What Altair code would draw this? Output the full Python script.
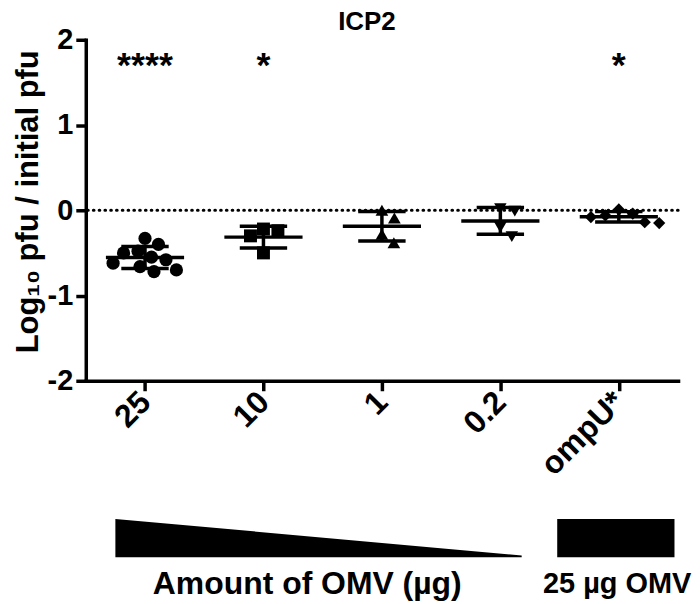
import altair as alt
import pandas as pd

# ---------------- data ----------------
categories = ["25", "10", "1", "0.2", "ompU*"]
values_25 = [-0.33, -0.40, -0.48, -0.50, -0.55, -0.58, -0.62, -0.66, -0.70, -0.72]
values_10 = [-0.22, -0.24, -0.30, -0.50]
values_1 = [0.0, -0.09, -0.28, -0.38]
values_02 = [0.02, -0.01, -0.20, -0.31]
values_ompu = [-0.04, -0.08, -0.15, -0.14, -0.06, 0.01]
groups = [values_25, values_10, values_1, values_02, values_ompu]
stars = ["****", "*", "", "", "*"]
star_level = [1.78, 1.78, 1.78, 1.78, 1.78]
y_ticks = [-2, -1, 0, 1, 2]
caption_left = "Amount of OMV (µg)"
caption_right = "25 µg OMV"

# ---------------- style ----------------
FONT = "Liberation Sans"
shapes = ["circle", "square", "triangle-up", "triangle-down", "diamond"]
sizes = [175, 150, 240, 240, 210]
W, H = 594, 342
XPX = W / len(categories)
YPX = H / 4.0
D = 14.5


def swarm(vals, d=D):
    """simple beeswarm: horizontal pixel offsets so markers do not overlap"""
    placed = []
    offs = [0.0] * len(vals)
    order = sorted(range(len(vals)), key=lambda k: -vals[k])
    for i in order:
        y = vals[i] * YPX
        best = None
        k = 0
        while best is None:
            cands = [0.0] if k == 0 else [k * 0.5, -k * 0.5]
            for s in cands:
                if all((s - px) ** 2 + (y - py) ** 2 >= d * d for px, py in placed):
                    best = s
                    break
            k += 1
        placed.append((best, y))
        offs[i] = best
    return offs


rows = []
for i, (cat, vals) in enumerate(zip(categories, groups)):
    offs = swarm(vals)
    for v, o in zip(vals, offs):
        rows.append({"cat": cat, "idx": i, "v": v, "xpos": i + o / XPX})
df = pd.DataFrame(rows)

star_df = pd.DataFrame({"idx": list(range(len(categories))), "star": stars, "lvl": star_level})

x_scale = alt.Scale(domain=[-0.5, len(categories) - 0.5], nice=False, zero=False)
y_scale = alt.Scale(domain=[-2, 2], nice=False, zero=False)
label_expr = "[" + ",".join("'" + c + "'" for c in categories) + "][datum.value]"

x_axis = alt.Axis(values=list(range(len(categories))), labelExpr=label_expr, labelAngle=-45,
                  labelAlign="right", labelBaseline="middle", labelPadding=6, labelFontSize=32,
                  title=None)
y_axis = alt.Axis(values=y_ticks, labelExpr="'' + datum.value", labelPadding=3,
                  title="Log₁₀ pfu / initial pfu", titlePadding=3, titleY=162)


def X(f):
    return alt.X(f, scale=x_scale, axis=x_axis)


def Y(f):
    return alt.Y(f, scale=y_scale, axis=y_axis)


points = alt.Chart(df).mark_point(filled=True, opacity=1, color="black").encode(
    x=X("xpos:Q"),
    y=Y("v:Q"),
    shape=alt.Shape("cat:N", scale=alt.Scale(domain=categories, range=shapes), legend=None),
    size=alt.Size("cat:N", scale=alt.Scale(domain=categories, range=sizes), legend=None),
)

stats = alt.Chart(df).transform_aggregate(
    mean="mean(v)", sd="stdev(v)", groupby=["idx"]
).transform_calculate(
    lo="datum.mean - datum.sd", hi="datum.mean + datum.sd",
    xl="datum.idx - 0.33", xr="datum.idx + 0.33",
    cl="datum.idx - 0.2", cr="datum.idx + 0.2",
)
rule_kw = dict(color="black", strokeWidth=3.5)
mean_line = stats.mark_rule(**rule_kw).encode(x=X("xl:Q"), x2="xr:Q", y=Y("mean:Q"))
cap_hi = stats.mark_rule(**rule_kw).encode(x=X("cl:Q"), x2="cr:Q", y=Y("hi:Q"))
cap_lo = stats.mark_rule(**rule_kw).encode(x=X("cl:Q"), x2="cr:Q", y=Y("lo:Q"))
vert = stats.mark_rule(**rule_kw).encode(x=X("idx:Q"), y=Y("lo:Q"), y2="hi:Q")

zero = alt.Chart(pd.DataFrame({"z": [0]})).mark_rule(
    color="black", strokeWidth=3.2, strokeDash=[0.5, 5.3], strokeCap="round"
).encode(y=Y("z:Q"))

star_text = alt.Chart(star_df).mark_text(
    font=FONT, fontSize=36, fontWeight="bold", color="black", baseline="middle", dy=8
).encode(x=X("idx:Q"), y=Y("lvl:Q"), text="star:N")

# ---- annotation below the axis (wedge, box, captions) ----
wedge_df = pd.DataFrame({"wx": [-0.25, 3.18], "top": [-3.62, -4.05], "bot": [-4.07, -4.07]})
wedge = alt.Chart(wedge_df).mark_area(color="black", opacity=1).encode(
    x=X("wx:Q"), y=Y("top:Q"), y2="bot:Q"
)
box_df = pd.DataFrame({"bx": [3.48], "bx2": [4.47], "by": [-3.62], "by2": [-4.07]})
box = alt.Chart(box_df).mark_rect(color="black").encode(
    x=X("bx:Q"), x2="bx2:Q", y=Y("by:Q"), y2="by2:Q"
)
cap_l = alt.Chart(pd.DataFrame({"tx": [1.37], "ty": [-4.38], "label": [caption_left]})).mark_text(
    font=FONT, fontSize=32, fontWeight="bold", color="black", baseline="middle"
).encode(x=X("tx:Q"), y=Y("ty:Q"), text="label:N")
cap_r = alt.Chart(pd.DataFrame({"tx": [3.36], "ty": [-4.38], "label": [caption_right]})).mark_text(
    font=FONT, fontSize=29, fontWeight="bold", color="black", baseline="middle", align="left"
).encode(x=X("tx:Q"), y=Y("ty:Q"), text="label:N")

chart = alt.layer(
    zero, mean_line, cap_hi, cap_lo, vert, points, star_text, wedge, box, cap_l, cap_r
).properties(
    width=W, height=H,
    title=alt.TitleParams("ICP2", offset=-9, dx=-15),
    padding={"left": 4, "top": 0, "right": 0, "bottom": 0},
).configure_view(stroke=None).configure_axis(
    grid=False, domainColor="black", domainWidth=3.5, domainCap="square",
    tickColor="black", tickWidth=3.5, tickSize=10,
    labelFont=FONT, labelFontSize=29, labelFontWeight="bold", labelColor="black",
    titleFont=FONT, titleFontSize=31, titleFontWeight="bold", titleColor="black",
).configure_title(font=FONT, fontSize=26, fontWeight="bold", color="black", anchor="middle")

chart.save("out.html", embed_options={"renderer": "svg", "actions": False})
